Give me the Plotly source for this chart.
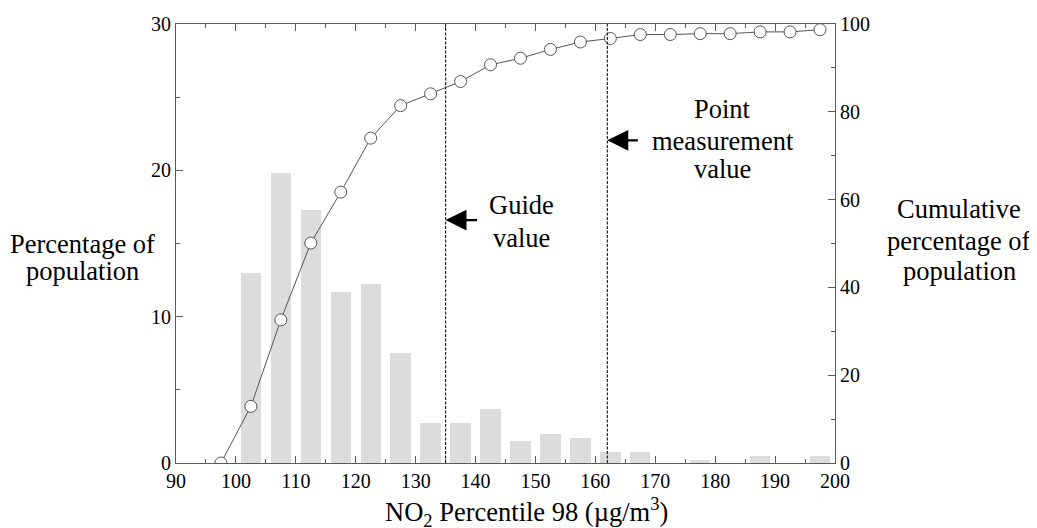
import plotly.graph_objects as go

# ---- data ----
bin_centers = [102.5, 107.5, 112.5, 117.5, 122.5, 127.5, 132.5, 137.5, 142.5, 147.5,
               152.5, 157.5, 162.5, 167.5, 172.5, 177.5, 182.5, 187.5, 192.5, 197.5]
pct_population = [13.0, 19.8, 17.3, 11.7, 12.2, 7.5, 2.7, 2.7, 3.7, 1.5,
                  2.0, 1.7, 0.75, 0.75, 0.0, 0.2, 0.0, 0.5, 0.0, 0.5]

cum_x = [97.5, 102.5, 107.5, 112.5, 117.5, 122.5, 127.5, 132.5, 137.5, 142.5, 147.5,
         152.5, 157.5, 162.5, 167.5, 172.5, 177.5, 182.5, 187.5, 192.5, 197.5]
cum_pct = [0.0, 12.9, 32.6, 50.1, 61.7, 74.0, 81.4, 84.1, 86.9, 90.7, 92.2,
           94.2, 95.9, 96.7, 97.6, 97.6, 97.8, 97.8, 98.2, 98.2, 98.7]

guide_value = 135
point_value = 162

guide_lines = ["Guide", "value"]
point_lines = ["Point", "measurement", "value"]
left_title_lines = ["Percentage of", "population"]
right_title_lines = ["Cumulative", "percentage of", "population"]
x_title = "NO<sub>2</sub> Percentile 98 (µg/m<sup>3</sup>)"

FONT = "Liberation Serif, Times New Roman, serif"
AX = "#5a5a5a"
TFS = 26.5

fig = go.Figure()
fig.add_trace(go.Bar(x=bin_centers, y=pct_population, width=3.4,
                     marker=dict(color="#dcdcdc", line=dict(width=0)),
                     yaxis="y", showlegend=False))
fig.add_trace(go.Scatter(x=cum_x, y=cum_pct, yaxis="y2", mode="lines+markers",
                         line=dict(color="#555555", width=1),
                         marker=dict(symbol="circle", size=12, color="white",
                                     line=dict(color="#555555", width=1)),
                         showlegend=False))

for v in (guide_value, point_value):
    fig.add_shape(type="line", xref="x", yref="paper", x0=v, x1=v, y0=0, y1=1,
                  line=dict(color="#222222", width=1.2, dash="3px,1.5px"))

# arrows pointing at the reference lines
fig.add_annotation(x=guide_value, y=16.6, xref="x", yref="y", text="",
                   showarrow=True, ax=33, ay=0, arrowhead=2, arrowsize=1.9,
                   arrowwidth=2.2, arrowcolor="black")
fig.add_annotation(x=point_value, y=22.05, xref="x", yref="y", text="",
                   showarrow=True, ax=32, ay=0, arrowhead=2, arrowsize=1.9,
                   arrowwidth=2.2, arrowcolor="black")

# text blocks, one annotation per line (paper coords; plot area is 660 x 439 px)
PLOT_L, PLOT_B, PW, PH = 175.5, 463.0, 660.0, 439.0


def add_lines(lines, cx_px, centers_px):
    for txt, cy in zip(lines, centers_px):
        fig.add_annotation(x=(cx_px - PLOT_L) / PW, y=(PLOT_B - cy) / PH,
                           xref="paper", yref="paper", text=txt, showarrow=False,
                           xanchor="center", yanchor="middle",
                           font=dict(family=FONT, size=TFS, color="black"))


add_lines(guide_lines, 521.6, [204.5, 237.5])
add_lines(point_lines, 723.0, [109, 140.5, 169.5])
add_lines(left_title_lines, 82.0, [244, 270.5])
add_lines(right_title_lines, 960.0, [209, 240.5, 270.5])
add_lines([x_title], 527.0, [511.5])

# page body has an 8px margin: compensate so the plot area lands where the reference has it
fig.update_layout(
    width=1029, height=520,
    margin=dict(l=167.5, r=201.5, t=16, b=65, autoexpand=False),
    plot_bgcolor="white", paper_bgcolor="white",
    font=dict(family=FONT, size=20, color="black"),
    bargap=0,
    xaxis=dict(range=[90, 200], tickmode="linear", tick0=90, dtick=10,
               ticks="inside", ticklen=7, tickcolor=AX, tickwidth=1,
               minor=dict(dtick=5, ticks="inside", ticklen=4, tickcolor=AX),
               showline=True, linecolor=AX, linewidth=1.2, mirror="ticks",
               showgrid=False, zeroline=False),
    yaxis=dict(range=[0, 30], tickmode="linear", tick0=0, dtick=10,
               ticks="inside", ticklen=7, tickcolor=AX,
               minor=dict(dtick=5, ticks="inside", ticklen=4, tickcolor=AX),
               showline=True, linecolor=AX, linewidth=1.2,
               showgrid=False, zeroline=False),
    yaxis2=dict(range=[0, 100], overlaying="y", side="right",
                tickmode="linear", tick0=0, dtick=20,
                ticks="inside", ticklen=7, tickcolor=AX,
                minor=dict(dtick=10, ticks="inside", ticklen=4, tickcolor=AX),
                showline=True, linecolor=AX, linewidth=1.2,
                showgrid=False, zeroline=False),
)

fig.write_html("out.html")
